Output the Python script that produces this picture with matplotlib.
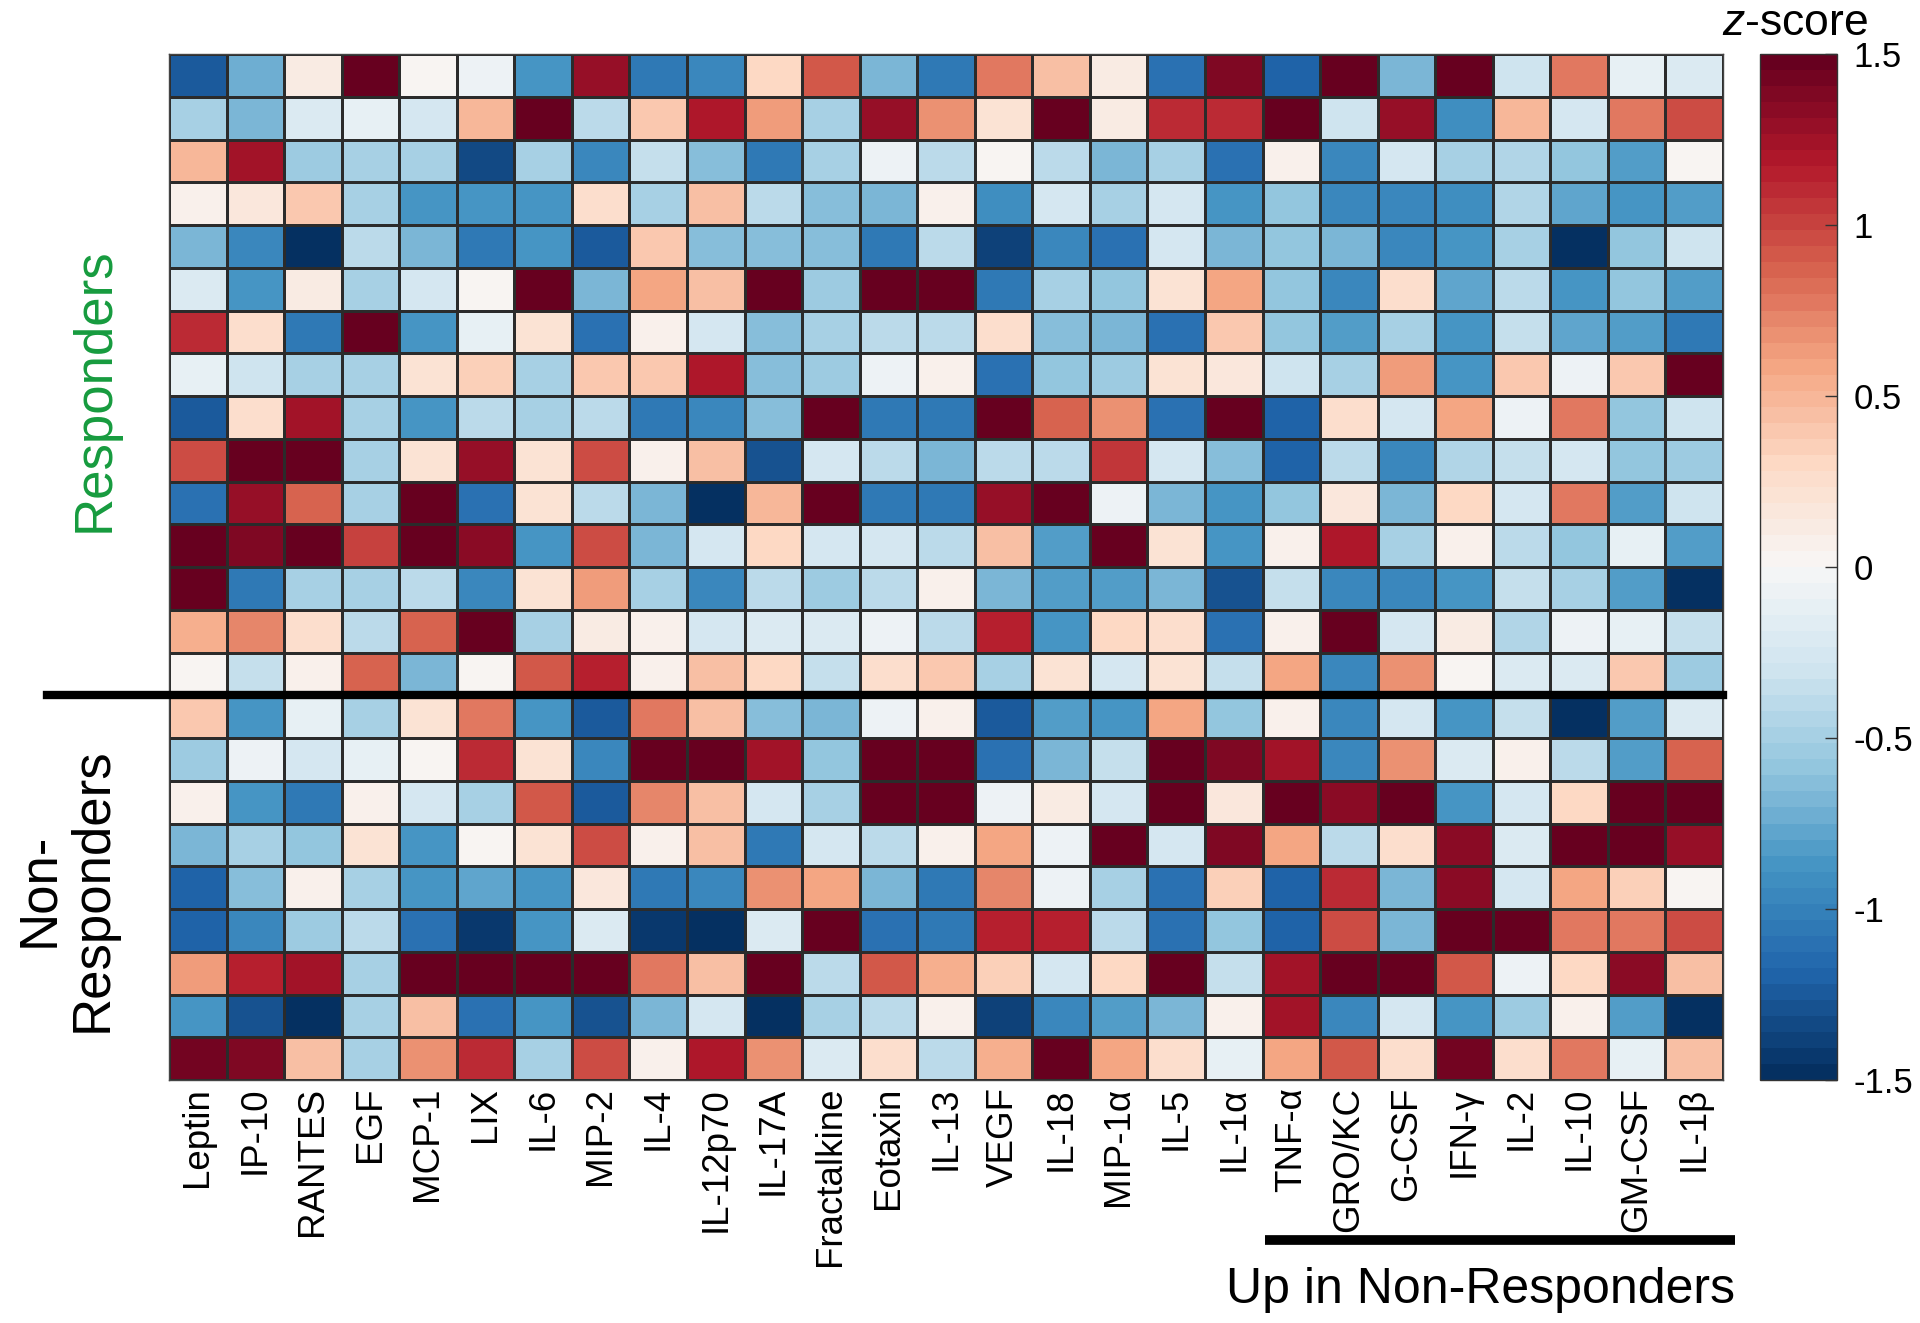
import numpy as np
import matplotlib
matplotlib.use("Agg")
import matplotlib.pyplot as plt
from matplotlib.colors import ListedColormap
from matplotlib.lines import Line2D
from matplotlib.transforms import blended_transform_factory

cytokines = ["Leptin", "IP-10", "RANTES", "EGF", "MCP-1", "LIX", "IL-6", "MIP-2",
             "IL-4", "IL-12p70", "IL-17A", "Fractalkine", "Eotaxin", "IL-13", "VEGF",
             "IL-18", "MIP-1α", "IL-5", "IL-1α", "TNF-α", "GRO/KC", "G-CSF", "IFN-γ",
             "IL-2", "IL-10", "GM-CSF", "IL-1β"]

responders = [
    [-1.25, -0.75, 0.1, 1.5, 0.02, -0.05, -0.85, 1.3, -1.05, -0.95, 0.3, 0.9, -0.7, -1.05, 0.75, 0.45, 0.12, -1.1, 1.4, -1.2, 1.5, -0.7, 1.5, -0.3, 0.75, -0.1, -0.2],
    [-0.5, -0.7, -0.22, -0.1, -0.28, 0.5, 1.5, -0.42, 0.4, 1.2, 0.65, -0.5, 1.3, 0.68, 0.22, 1.5, 0.12, 1.1, 1.1, 1.5, -0.32, 1.3, -0.9, 0.5, -0.28, 0.78, 0.95],
    [0.5, 1.25, -0.55, -0.5, -0.5, -1.35, -0.5, -0.95, -0.35, -0.65, -1.05, -0.5, -0.05, -0.38, 0.0, -0.38, -0.7, -0.47, -1.1, 0.06, -0.95, -0.28, -0.5, -0.45, -0.6, -0.8, 0.0],
    [0.05, 0.15, 0.4, -0.5, -0.88, -0.85, -0.85, 0.25, -0.5, 0.45, -0.42, -0.65, -0.7, 0.07, -0.93, -0.28, -0.5, -0.28, -0.85, -0.6, -0.95, -0.95, -0.9, -0.45, -0.78, -0.85, -0.8],
    [-0.68, -0.95, -1.5, -0.4, -0.7, -1.05, -0.85, -1.22, 0.4, -0.65, -0.65, -0.65, -1.05, -0.38, -1.4, -0.95, -1.1, -0.28, -0.7, -0.6, -0.7, -0.95, -0.88, -0.47, -1.5, -0.6, -0.32],
    [-0.2, -0.85, 0.12, -0.5, -0.28, 0.0, 1.5, -0.68, 0.58, 0.45, 1.5, -0.55, 1.5, 1.5, -1.05, -0.5, -0.6, 0.22, 0.58, -0.6, -0.95, 0.25, -0.78, -0.42, -0.88, -0.6, -0.8],
    [1.1, 0.25, -1.05, 1.5, -0.88, -0.12, 0.22, -1.1, 0.06, -0.28, -0.65, -0.5, -0.42, -0.38, 0.25, -0.65, -0.68, -1.1, 0.38, -0.6, -0.8, -0.5, -0.88, -0.35, -0.78, -0.8, -1.05],
    [-0.12, -0.32, -0.5, -0.5, 0.2, 0.37, -0.5, 0.42, 0.42, 1.2, -0.65, -0.55, -0.05, 0.06, -1.1, -0.6, -0.55, 0.22, 0.15, -0.32, -0.5, 0.65, -0.88, 0.38, -0.05, 0.38, 1.5],
    [-1.22, 0.25, 1.25, -0.5, -0.88, -0.42, -0.5, -0.42, -1.05, -0.95, -0.65, 1.5, -1.05, -1.05, 1.5, 0.85, 0.68, -1.1, 1.5, -1.2, 0.25, -0.28, 0.58, -0.05, 0.78, -0.6, -0.32],
    [0.95, 1.5, 1.5, -0.5, 0.22, 1.3, 0.22, 0.95, 0.06, 0.45, -1.3, -0.28, -0.42, -0.7, -0.42, -0.42, 1.05, -0.28, -0.65, -1.2, -0.38, -0.95, -0.45, -0.35, -0.28, -0.6, -0.55],
    [-1.1, 1.3, 0.85, -0.5, 1.5, -1.1, 0.22, -0.42, -0.68, -1.5, 0.5, 1.5, -1.05, -1.05, 1.27, 1.5, -0.05, -0.68, -0.85, -0.6, 0.18, -0.7, 0.32, -0.28, 0.78, -0.8, -0.32],
    [1.5, 1.38, 1.5, 1.0, 1.5, 1.35, -0.85, 0.95, -0.68, -0.28, 0.32, -0.28, -0.28, -0.38, 0.45, -0.8, 1.5, 0.22, -0.85, 0.06, 1.2, -0.5, 0.06, -0.42, -0.6, -0.12, -0.8],
    [1.5, -1.05, -0.47, -0.5, -0.38, -0.95, 0.22, 0.62, -0.5, -0.95, -0.42, -0.55, -0.42, 0.06, -0.68, -0.8, -0.8, -0.68, -1.3, -0.35, -0.95, -0.95, -0.88, -0.35, -0.5, -0.8, -1.5],
    [0.55, 0.72, 0.25, -0.42, 0.85, 1.5, -0.5, 0.12, 0.06, -0.28, -0.2, -0.2, -0.05, -0.38, 1.15, -0.85, 0.32, 0.25, -1.1, 0.06, 1.5, -0.28, 0.13, -0.45, -0.05, -0.12, -0.35],
    [0.0, -0.35, 0.06, 0.85, -0.7, 0.0, 0.9, 1.15, 0.06, 0.45, 0.32, -0.35, 0.25, 0.38, -0.5, 0.22, -0.25, 0.22, -0.35, 0.57, -0.95, 0.68, 0.0, -0.2, -0.2, 0.38, -0.55],
]

non_responders = [
    [0.4, -0.85, -0.12, -0.5, 0.22, 0.78, -0.85, -1.22, 0.78, 0.45, -0.65, -0.68, -0.05, 0.06, -1.22, -0.8, -0.85, 0.6, -0.6, 0.06, -0.95, -0.28, -0.88, -0.35, -1.5, -0.8, -0.2],
    [-0.55, -0.05, -0.28, -0.12, 0.0, 1.1, 0.22, -0.95, 1.5, 1.5, 1.25, -0.6, 1.5, 1.5, -1.1, -0.7, -0.35, 1.5, 1.38, 1.25, -0.95, 0.68, -0.2, 0.06, -0.42, -0.8, 0.85],
    [0.06, -0.88, -1.05, 0.06, -0.28, -0.5, 0.9, -1.22, 0.72, 0.45, -0.28, -0.5, 1.5, 1.5, -0.05, 0.13, -0.28, 1.5, 0.15, 1.5, 1.35, 1.5, -0.88, -0.28, 0.32, 1.5, 1.5],
    [-0.7, -0.47, -0.6, 0.22, -0.88, 0.0, 0.22, 0.95, 0.06, 0.45, -1.05, -0.28, -0.42, 0.06, 0.57, -0.05, 1.5, -0.28, 1.38, 0.57, -0.42, 0.25, 1.35, -0.2, 1.5, 1.5, 1.3],
    [-1.2, -0.65, 0.06, -0.5, -0.88, -0.78, -0.85, 0.18, -1.05, -0.95, 0.68, 0.6, -0.7, -1.05, 0.72, -0.05, -0.47, -1.1, 0.35, -1.2, 1.1, -0.7, 1.35, -0.28, 0.6, 0.35, 0.0],
    [-1.2, -0.95, -0.55, -0.42, -1.1, -1.45, -0.85, -0.2, -1.45, -1.5, -0.2, 1.5, -1.1, -1.05, 1.15, 1.15, -0.42, -1.1, -0.6, -1.2, 0.95, -0.7, 1.5, 1.5, 0.78, 0.78, 0.95],
    [0.62, 1.15, 1.25, -0.5, 1.5, 1.5, 1.5, 1.5, 0.78, 0.45, 1.5, -0.38, 0.9, 0.55, 0.35, -0.28, 0.32, 1.5, -0.35, 1.25, 1.5, 1.5, 0.9, -0.05, 0.32, 1.35, 0.45],
    [-0.85, -1.3, -1.5, -0.5, 0.45, -1.1, -0.85, -1.3, -0.68, -0.28, -1.5, -0.47, -0.42, 0.06, -1.4, -0.95, -0.8, -0.68, 0.06, 1.25, -0.95, -0.28, -0.88, -0.55, 0.06, -0.8, -1.5],
    [1.45, 1.38, 0.45, -0.5, 0.68, 1.1, -0.5, 0.95, 0.06, 1.2, 0.68, -0.2, 0.25, -0.38, 0.55, 1.5, 0.6, 0.25, -0.12, 0.57, 0.9, 0.25, 1.45, 0.25, 0.78, -0.12, 0.45],
]

cbar_ticks = [-1.5, -1, -0.5, 0, 0.5, 1, 1.5]
cbar_tick_labels = ["-1.5", "-1", "-0.5", "0", "0.5", "1", "1.5"]
up_group_start = "TNF-α"

plt.rcParams['font.family'] = ['Liberation Sans', 'DejaVu Sans']
plt.rcParams['axes.unicode_minus'] = False
plt.rcParams['mathtext.fontset'] = 'custom'
plt.rcParams['mathtext.it'] = 'Liberation Sans:italic'
plt.rcParams['mathtext.rm'] = 'Liberation Sans'

data = np.array(responders + non_responders)
n_rows, n_cols = data.shape
n_resp = len(responders)

W, H = 1920, 1323
fig = plt.figure(figsize=(W / 100, H / 100), dpi=100)
ax = fig.add_axes([169 / W, 1 - 1080 / H, 1554 / W, 1026 / H])

cmap = ListedColormap(plt.get_cmap('RdBu_r')(np.linspace(0, 1, 64)))
mesh = ax.pcolormesh(np.arange(n_cols + 1), np.arange(n_rows + 1), data,
                     cmap=cmap, vmin=-1.5, vmax=1.5,
                     edgecolors='#2b2b2b', linewidth=0.9)

ax.set_xticks(np.arange(n_cols) + 0.5)
ax.set_xticklabels(cytokines, rotation=90, fontsize=26.5)
ax.tick_params(axis='x', length=0, pad=5)
ax.set_yticks([])
for s in ax.spines.values():
    s.set_color('#444444')
    s.set_linewidth(1)

# separator between groups
ax.axhline(n_resp, xmin=(47 - 169) / 1554, xmax=1.0, color='black', lw=6,
           clip_on=False, zorder=5)

# "Up in Non-Responders" bar
trans = blended_transform_factory(ax.transData, fig.transFigure)
x0 = cytokines.index(up_group_start) + 0.05
bar = Line2D([x0, n_cols + 0.2], [1 - 1240 / H, 1 - 1240 / H], transform=trans,
             color='black', lw=7, solid_capstyle='butt', clip_on=False)
fig.add_artist(bar)
fig.text(1480 / W, 1 - 1303 / H, "Up in Non-Responders", fontsize=36,
         ha='center', va='baseline')

ax.set_xlim(0, n_cols)
ax.set_ylim(n_rows, 0)

# group labels
fig.text(95 / W, 1 - 390 / H, "Responders", rotation=90, color='#169b3e',
         fontsize=38, ha='center', va='center')
fig.text(66 / W, 1 - 890 / H, "Non-\nResponders", rotation=90, color='black',
         fontsize=38, ha='center', va='center', multialignment='center',
         linespacing=1.1)

# colorbar
cax = fig.add_axes([1760 / W, 1 - 1080 / H, 77 / W, 1026 / H])
cb = fig.colorbar(mesh, cax=cax, ticks=cbar_ticks)
cb.ax.set_yticklabels(cbar_tick_labels)
cb.ax.tick_params(direction='in', length=9, width=1, labelsize=25, pad=12,
                  color='#333333')
cb.outline.set_edgecolor('#333333')
cb.outline.set_linewidth(1)
fig.text(1795 / W, 1 - 3 / H, r"$\it{z}$-score", fontsize=32,
         ha='center', va='top')

fig.savefig("out.png", dpi=100)
